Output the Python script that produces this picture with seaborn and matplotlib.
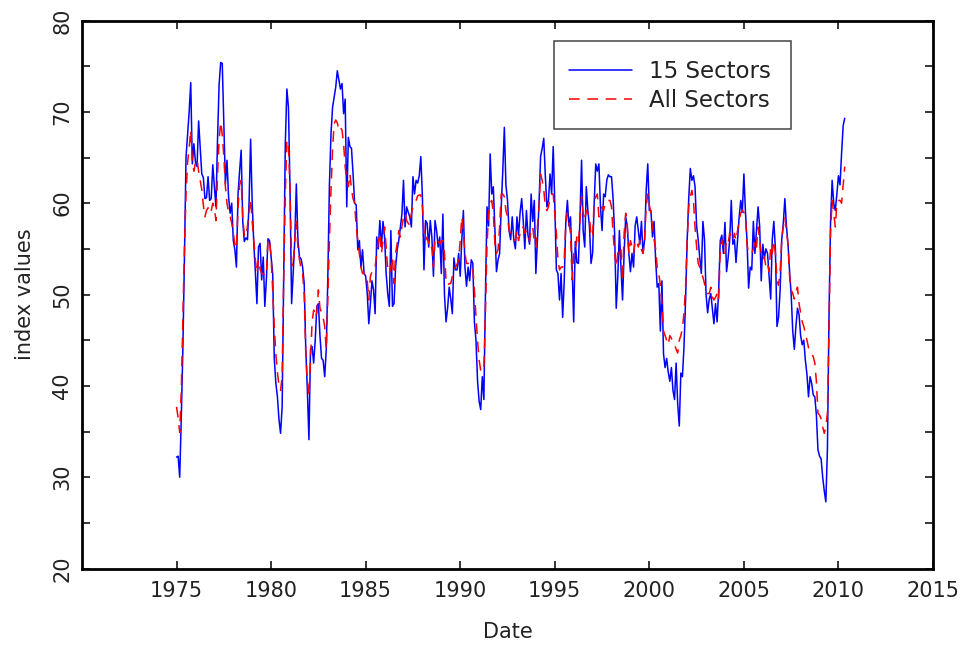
import numpy as np
import pandas as pd
import matplotlib
matplotlib.use("Agg")
import matplotlib.pyplot as plt
from matplotlib.patches import Rectangle
import seaborn as sns

# Monthly index values, January 1975 onwards
sectors_15 = [
    32.2, 32.3, 30.0, 36.5, 44.0, 54.0, 65.0, 67.5, 70.0, 73.2,
    64.3, 66.5, 64.5, 64.0, 69.0, 66.0, 63.2, 62.8, 60.5, 60.6,
    62.9, 60.3, 60.5, 64.2, 61.8, 59.6, 67.0, 73.0, 75.4, 75.3,
    68.7, 62.1, 64.7, 60.7, 58.9, 60.0, 55.9, 54.9, 53.0, 61.0,
    63.5, 65.8, 58.0, 55.8, 56.2, 56.0, 60.0, 67.0, 60.0, 55.6,
    52.5, 49.0, 55.2, 55.6, 51.6, 54.1, 48.7, 51.6, 56.1, 55.9,
    54.1, 52.3, 43.0, 40.3, 38.8, 36.3, 34.8, 37.7, 52.0, 66.5,
    72.5, 70.5, 61.5, 49.0, 52.3, 55.9, 62.1, 56.0, 54.1, 53.9,
    53.0, 51.2, 44.0, 39.5, 34.1, 44.0, 44.3, 42.5, 45.0, 48.7,
    49.0, 45.5, 43.0, 42.8, 41.0, 44.0, 52.0, 62.0, 67.6, 70.5,
    71.6, 72.7, 74.5, 73.5, 72.5, 73.1, 69.8, 71.4, 59.6, 67.2,
    66.2, 66.0, 63.2, 60.0, 59.8, 54.9, 55.9, 53.0, 54.9, 52.3,
    52.0, 50.1, 46.8, 49.0, 51.5, 50.5, 47.9, 56.3, 55.0, 58.1,
    55.2, 58.0, 56.3, 52.3, 50.1, 48.7, 57.0, 48.7, 49.0, 53.0,
    54.9, 55.9, 57.4, 58.8, 62.5, 57.4, 59.6, 59.0, 58.5, 57.4,
    62.9, 61.0, 62.5, 62.2, 63.0, 65.1, 60.7, 52.7, 58.1, 57.8,
    55.2, 58.1, 56.3, 52.0, 58.1, 57.0, 55.2, 56.3, 52.3, 58.8,
    50.0, 47.0, 48.5, 50.8, 49.5, 47.9, 54.0, 52.7, 52.7, 54.5,
    52.0, 56.0, 59.2, 53.0, 50.9, 53.0, 51.5, 53.8, 53.4, 47.0,
    45.0, 40.5, 38.3, 37.4, 41.0, 38.5, 50.0, 59.6, 57.5, 65.4,
    61.0, 61.8, 57.0, 52.5, 53.8, 54.5, 59.5, 63.5, 68.3, 62.0,
    60.3, 57.0, 56.0, 58.5, 56.0, 55.0, 58.5, 56.5, 59.0, 60.5,
    58.0, 55.0, 59.2, 56.5, 55.5, 61.0, 58.0, 60.3, 52.3, 56.0,
    60.0, 65.1, 66.0, 67.1, 63.0, 59.6, 60.3, 63.2, 61.0, 66.2,
    60.0, 52.7, 52.3, 49.4, 52.3, 47.5, 51.5, 58.0, 60.3, 57.5,
    58.5, 53.0, 47.0, 55.8, 53.5, 53.4, 58.5, 64.7, 57.0, 55.2,
    61.8, 59.2, 57.5, 53.4, 54.5, 60.0, 64.3, 63.5, 64.3, 59.6,
    57.0, 61.0, 60.7, 62.5, 63.1, 62.9, 62.9, 60.5, 56.5, 48.5,
    52.0, 57.0, 53.0, 49.4, 54.5, 58.5, 57.5, 54.5, 52.5, 54.5,
    53.0, 57.5, 58.5, 57.0, 55.5, 58.0, 54.5, 56.0, 61.4, 64.3,
    59.2, 59.2, 56.3, 58.0, 53.8, 50.8, 51.2, 46.0, 51.5, 43.5,
    42.0, 43.0, 41.5, 40.5, 42.0, 39.5, 38.5, 42.5, 38.0, 35.6,
    41.4, 41.0, 44.3, 49.4, 55.9, 60.5, 63.8, 62.5, 63.0, 61.8,
    57.5, 56.0, 54.0, 52.3, 58.0, 56.0, 50.0, 48.0, 49.5, 50.1,
    48.5, 46.8, 49.0, 47.0, 50.5, 55.9, 56.5, 54.5, 57.9, 52.5,
    54.0, 56.0, 60.3, 55.5, 56.0, 53.5, 56.0, 58.5, 60.3, 59.0,
    63.2, 59.0, 55.8, 50.7, 53.0, 52.7, 58.0, 54.5, 57.0, 59.6,
    57.5, 51.5, 55.5, 54.0, 55.0, 54.5, 52.0, 49.5, 56.0, 58.0,
    55.0, 46.5, 47.5, 50.5, 56.0, 57.8, 60.5, 57.5, 55.5, 52.5,
    50.0, 46.0, 44.0, 46.5, 48.5, 47.8, 45.5, 44.5, 45.0, 42.8,
    41.3, 38.8, 41.0, 40.3, 39.0, 38.8, 36.8, 33.0, 32.3, 32.0,
    30.0, 28.5, 27.3, 33.0, 47.5, 58.0, 62.5, 60.0, 59.2, 61.0,
    63.0, 62.0, 65.5, 68.5, 69.3,
]

all_sectors = [
    37.7, 36.5, 34.9, 39.5, 47.0, 55.0, 61.0, 64.5, 66.0, 68.0,
    64.5, 63.5, 64.5, 64.8, 63.5, 62.5, 61.5, 59.8, 58.5, 59.2,
    59.5, 58.9, 59.2, 60.0, 59.5, 58.1, 63.2, 66.9, 68.9, 67.5,
    65.1, 61.8, 60.0, 59.0, 58.6, 57.8, 56.7, 55.5, 55.0, 59.5,
    62.0, 62.5, 58.5, 56.5, 56.3, 57.5, 59.0, 60.5, 58.0, 56.0,
    53.8, 52.3, 53.8, 52.8, 52.3, 52.3, 52.0, 52.3, 56.0, 56.0,
    54.1, 50.5, 46.5, 43.5, 41.5, 40.0, 39.5, 41.0, 52.0, 61.0,
    66.9, 66.5, 61.5, 53.5, 53.0, 55.9, 58.0, 55.2, 53.8, 52.8,
    52.3, 50.0, 43.5, 40.5, 38.8, 42.8, 47.0, 48.3, 47.5, 48.0,
    50.5, 48.5, 48.0, 47.5, 46.5, 44.0, 49.5, 56.0, 61.4, 66.0,
    68.7, 69.1, 68.8, 68.0, 68.3, 68.0, 66.5, 64.0, 62.5, 61.8,
    63.2, 61.5, 60.5, 60.0, 57.4, 55.9, 54.5, 53.0, 52.3, 52.3,
    52.3, 51.5, 49.4, 52.0, 52.5, 53.0, 53.0, 54.5, 55.9, 56.7,
    54.5, 55.9, 57.4, 55.2, 52.7, 52.3, 53.0, 54.1, 51.2, 54.5,
    55.6, 57.0, 56.3, 57.4, 58.5, 58.9, 58.1, 57.8, 57.6, 58.9,
    59.6, 60.0, 60.3, 60.8, 60.9, 60.9, 59.6, 56.7, 55.9, 56.3,
    55.6, 54.9, 55.2, 53.0, 55.9, 55.6, 55.9, 55.5, 55.9, 55.9,
    54.5, 51.6, 51.0, 51.2, 51.2, 52.0, 52.7, 53.0, 53.3, 53.8,
    55.9, 58.5, 57.0, 54.5, 53.4, 53.4, 53.4, 53.4, 53.0, 50.5,
    47.5, 45.0, 42.8, 41.7, 41.5, 42.0, 48.0, 55.5, 58.9, 60.0,
    60.3, 58.9, 55.6, 54.5, 54.9, 57.4, 61.0, 61.0, 60.7, 59.2,
    58.5, 57.0, 56.7, 56.7, 56.3, 55.9, 57.0, 55.9, 56.7, 56.7,
    57.4, 56.7, 57.0, 56.7, 55.9, 57.0, 57.4, 55.9, 55.2, 57.4,
    59.6, 63.2, 62.5, 61.5, 59.6, 59.2, 59.6, 60.7, 61.0, 61.0,
    58.9, 56.7, 53.8, 52.7, 53.0, 53.0, 53.8, 57.8, 58.9, 57.8,
    56.7, 51.6, 54.5, 54.5, 56.3, 55.6, 58.1, 60.7, 58.9, 58.1,
    59.2, 58.9, 58.5, 56.3, 56.3, 60.3, 60.7, 61.0, 58.5, 58.9,
    59.6, 59.2, 60.0, 60.3, 60.3, 60.3, 59.6, 56.7, 54.5, 53.0,
    54.5, 55.2, 54.9, 51.5, 56.7, 58.9, 57.4, 54.5, 55.9, 55.2,
    54.5, 55.9, 55.9, 55.2, 55.9, 54.9, 54.5, 56.0, 59.6, 61.0,
    59.8, 58.9, 57.4, 56.0, 55.0, 53.0, 52.3, 51.0, 49.0, 46.0,
    45.5, 45.0, 44.5, 45.5, 45.2, 44.8, 44.5, 44.0, 43.6, 45.0,
    45.5, 46.3, 48.0, 50.8, 55.9, 59.6, 60.7, 61.4, 60.3, 57.4,
    55.2, 53.4, 53.0, 52.3, 51.9, 51.2, 50.5, 50.1, 50.1, 50.8,
    49.7, 49.4, 49.7, 50.1, 49.4, 55.0, 56.0, 55.2, 54.5, 55.9,
    55.6, 56.7, 56.3, 55.9, 56.7, 55.9, 57.0, 58.1, 58.9, 59.2,
    59.0, 58.5, 55.5, 54.5, 54.5, 54.5, 55.0, 55.9, 55.2, 57.4,
    55.9, 54.5, 53.8, 54.1, 53.0, 53.4, 52.5, 55.2, 54.5, 55.9,
    54.5, 51.5, 51.0, 52.5, 56.0, 57.4, 58.5, 57.0, 55.5, 52.0,
    50.5, 50.1, 49.5, 50.3, 50.8, 49.0, 48.0, 47.0, 46.5, 45.8,
    45.0, 44.2, 43.7, 43.5, 43.2, 42.5, 40.5, 37.0, 36.8, 36.4,
    35.5, 34.8, 35.5, 37.0, 46.0, 57.0, 60.3, 58.8, 57.4, 60.0,
    60.3, 60.3, 60.0, 62.0, 64.0,
]

first_year = 1975
series_names = ["15 Sectors", "All Sectors"]
x_ticks = [1975, 1980, 1985, 1990, 1995, 2000, 2005, 2010, 2015]
y_major = [20, 30, 40, 50, 60, 70, 80]
y_minor = [25, 35, 45, 55, 65, 75]

dates = first_year + np.arange(len(sectors_15)) / 12.0
df = pd.DataFrame({"Date": dates,
                   series_names[0]: sectors_15,
                   series_names[1]: all_sectors})

sns.set_style("white")
plt.rcParams["font.family"] = ["DejaVu Sans"]
text_color = "#222222"

W, H = 968, 650
fig = plt.figure(figsize=(W / 100, H / 100), dpi=100)
ax_left, ax_right, ax_top, ax_bottom = 82, 933, 20.5, 568.5
ax = fig.add_axes([ax_left / W, (H - ax_bottom) / H,
                   (ax_right - ax_left) / W, (ax_bottom - ax_top) / H])

sns.lineplot(data=df, x="Date", y=series_names[0], ax=ax,
             color="#0000ff", linewidth=1.1)
sns.lineplot(data=df, x="Date", y=series_names[1], ax=ax,
             color="#ff0000", linewidth=1.1, linestyle=(0, (7, 5)))

ax.set_xlim(1970, 2015)
ax.set_ylim(20, 80)
ax.set_xticks(x_ticks)
ax.set_xticklabels([str(t) for t in x_ticks])
ax.set_yticks(y_major)
ax.set_yticklabels([str(t) for t in y_major], rotation=90, va="center")
ax.set_yticks(y_minor, minor=True)

ax.tick_params(which="both", direction="in", length=5.8, width=1.1,
               color="black", top=True, right=True, bottom=True, left=True)
ax.tick_params(axis="x", which="both", labelsize=15, pad=9,
               labelcolor=text_color)
ax.tick_params(axis="y", which="both", labelsize=15, pad=7,
               labelcolor=text_color)

for spine in ax.spines.values():
    spine.set_visible(True)
    spine.set_color("black")
    spine.set_linewidth(2.0)

ax.set_xlabel("Date", fontsize=15, color=text_color)
ax.set_ylabel("index values", fontsize=15, color=text_color)
ax.xaxis.set_label_coords(0.5, -0.098)
ax.yaxis.set_label_coords(-0.0552, 0.5)

# Legend box drawn in figure pixels, entries placed inside it
box_l, box_r, box_t, box_b = 554, 791, 41, 129
frame = Rectangle((box_l / W, 1 - box_b / H), (box_r - box_l) / W,
                  (box_b - box_t) / H, transform=fig.transFigure,
                  facecolor="white", edgecolor="#444444", linewidth=1.1,
                  zorder=5, clip_on=False)
ax.add_patch(frame)

handles = ax.get_lines()[:2]
leg = ax.legend(handles, series_names, loc="center left",
                bbox_to_anchor=(569 / W, 1 - 86.2 / H),
                bbox_transform=fig.transFigure, frameon=False,
                borderpad=0, borderaxespad=0, fontsize=16.5,
                handlelength=2.75, handletextpad=0.72, labelspacing=0.25)
leg.set_zorder(6)
for t in leg.get_texts():
    t.set_color(text_color)

fig.savefig("out.png", dpi=100, facecolor="white")
